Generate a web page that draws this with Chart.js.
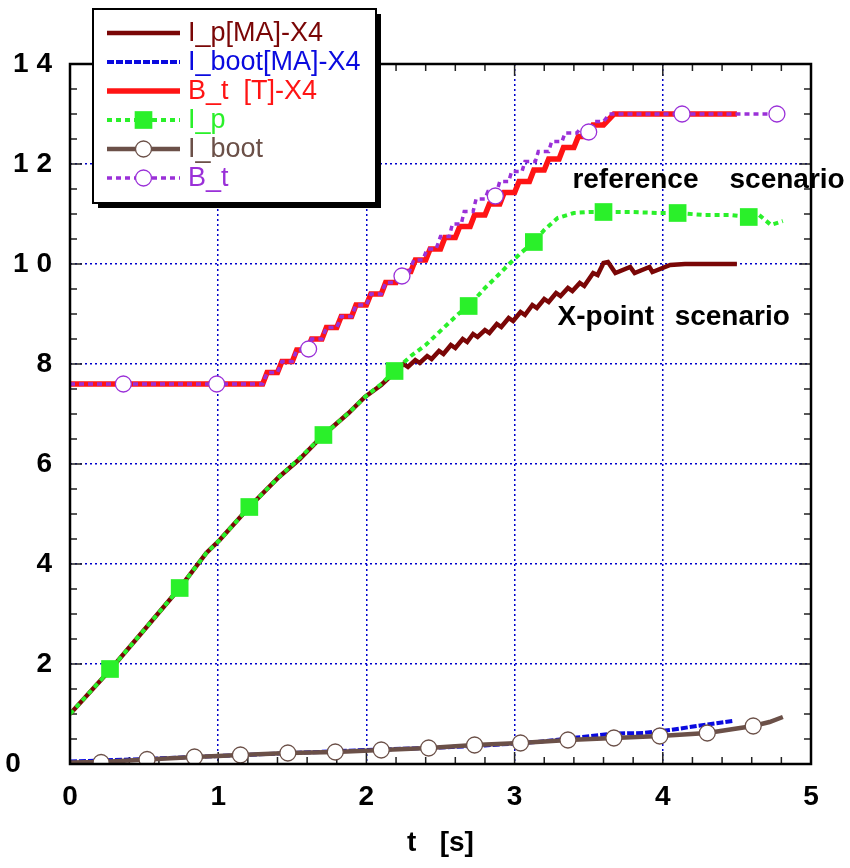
<!DOCTYPE html>
<html>
<head>
<meta charset="utf-8">
<script src="https://cdn.jsdelivr.net/npm/chart.js@4.4.0/dist/chart.umd.min.js"></script>
<style>
  html, body { margin: 0; padding: 0; background: #fff; }
  #wrap { width: 850px; height: 868px; }
</style>
</head>
<body>
<div id="wrap"><canvas id="chart" width="850" height="868"></canvas></div>
<script>
// ---- data (t in s) ----
// I_p[MA]-X4 (X-point scenario)
const ipX4Time = [0, 0.27, 0.5, 0.74, 0.92, 1.01, 1.21, 1.41, 1.55, 1.71,
  1.88, 1.99, 2.10, 2.20, 2.25, 2.28, 2.33, 2.36, 2.41, 2.44,
  2.49, 2.52, 2.57, 2.60, 2.65, 2.68, 2.72, 2.75, 2.80, 2.83,
  2.88, 2.91, 2.96, 2.99, 3.04, 3.07, 3.12, 3.15, 3.20, 3.23,
  3.28, 3.31, 3.36, 3.39, 3.44, 3.47, 3.53, 3.56, 3.60, 3.63,
  3.68, 3.78, 3.81, 3.91, 3.93, 4.05, 4.15, 4.50];
const ipX4Val = [1.00, 1.88, 2.68, 3.52, 4.22, 4.48, 5.14, 5.74, 6.10, 6.58,
  7.02, 7.34, 7.58, 7.86, 8.00, 7.94, 8.08, 8.02, 8.16, 8.10,
  8.26, 8.20, 8.38, 8.32, 8.50, 8.44, 8.60, 8.54, 8.68, 8.62,
  8.80, 8.74, 8.92, 8.86, 9.04, 8.98, 9.18, 9.12, 9.30, 9.24,
  9.42, 9.36, 9.52, 9.46, 9.62, 9.56, 9.82, 9.78, 10.02, 10.04,
  9.82, 9.94, 9.82, 9.94, 9.84, 9.98, 10.00, 10.00];

// I_boot[MA]-X4
const ibX4Time = [0, 0.5, 1.0, 1.5, 2.0, 2.5, 2.8, 3.15, 3.42, 3.67, 3.87, 4.05, 4.23, 4.47];
const ibX4Val = [0.05, 0.10, 0.16, 0.22, 0.28, 0.33, 0.37, 0.44, 0.53, 0.61, 0.62, 0.68, 0.76, 0.86];

// B_t [T]-X4
const btX4Time = [0, 1.30, 1.33, 1.40, 1.43, 1.50, 1.53, 1.60, 1.63, 1.70, 1.73, 1.80,
  1.83, 1.90, 1.93, 2.00, 2.03, 2.10, 2.13, 2.20, 2.23, 2.30, 2.33, 2.40,
  2.43, 2.50, 2.53, 2.60, 2.63, 2.70, 2.73, 2.80, 2.83, 2.90, 2.93, 3.00,
  3.03, 3.10, 3.13, 3.20, 3.23, 3.30, 3.33, 3.40, 3.43, 3.50, 3.53, 3.60,
  3.67, 4.50];
const btX4Val = [7.60, 7.60, 7.83, 7.83, 8.05, 8.05, 8.28, 8.28, 8.50, 8.50, 8.73, 8.73,
  8.95, 8.95, 9.18, 9.18, 9.40, 9.40, 9.63, 9.63, 9.85, 9.85, 10.08, 10.08,
  10.30, 10.30, 10.53, 10.53, 10.75, 10.75, 10.98, 10.98, 11.20, 11.20, 11.43, 11.43,
  11.65, 11.65, 11.88, 11.88, 12.10, 12.10, 12.33, 12.33, 12.55, 12.55, 12.78, 12.78,
  13.00, 13.00];

// I_p (reference scenario)
const ipTime = [0, 0.27, 0.5, 0.74, 0.92, 1.01, 1.21, 1.41, 1.55, 1.71,
  1.88, 1.99, 2.10, 2.19, 2.30, 2.40, 2.52, 2.62, 2.69, 2.80,
  2.89, 2.97, 3.05, 3.13, 3.20, 3.29, 3.40, 3.50, 3.60, 3.78,
  3.98, 4.10, 4.28, 4.45, 4.58, 4.65, 4.73, 4.81];
const ipVal = [1.00, 1.88, 2.68, 3.52, 4.22, 4.48, 5.14, 5.74, 6.12, 6.58,
  7.02, 7.34, 7.60, 7.86, 8.16, 8.38, 8.72, 9.00, 9.16, 9.52,
  9.78, 10.02, 10.24, 10.44, 10.68, 10.92, 11.02, 11.04, 11.04, 11.04,
  11.02, 11.02, 10.98, 10.98, 10.94, 10.98, 10.78, 10.86];
const ipMarkTime = [0.27, 0.74, 1.21, 1.71, 2.19, 2.69, 3.13, 3.60, 4.10, 4.58];
const ipMarkVal = [1.90, 3.52, 5.14, 6.58, 7.86, 9.16, 10.44, 11.04, 11.02, 10.94];

// I_boot (reference scenario)
const ibTime = [0, 0.21, 0.52, 0.84, 1.15, 1.47, 1.79, 2.10, 2.42, 2.73,
  3.04, 3.36, 3.67, 3.98, 4.30, 4.61, 4.72, 4.81];
const ibVal = [0.03, 0.04, 0.09, 0.14, 0.18, 0.22, 0.24, 0.28, 0.32, 0.38,
  0.42, 0.48, 0.52, 0.56, 0.62, 0.76, 0.84, 0.94];
const ibMarkTime = [0.21, 0.52, 0.84, 1.15, 1.47, 1.79, 2.10, 2.42, 2.73, 3.04, 3.36, 3.67, 3.98, 4.30, 4.61];
const ibMarkVal = [0.03, 0.09, 0.14, 0.18, 0.22, 0.24, 0.28, 0.32, 0.38, 0.42, 0.48, 0.52, 0.56, 0.62, 0.76];

// B_t (reference scenario)
const btTime = [0, 1.30, 1.33, 1.40, 1.43, 1.50, 1.53, 1.60, 1.63, 1.70, 1.73, 1.80,
  1.83, 1.90, 1.93, 2.00, 2.03, 2.10, 2.13, 2.20, 2.23, 2.29, 2.32, 2.38,
  2.41, 2.47, 2.50, 2.56, 2.58, 2.64, 2.66, 2.72, 2.74, 2.80, 2.82, 2.88,
  2.90, 2.96, 2.98, 3.05, 3.07, 3.14, 3.16, 3.23, 3.25, 3.32, 3.34, 3.42,
  3.44, 3.52, 3.54, 3.60, 3.64, 4.80];
const btVal = [7.60, 7.60, 7.83, 7.83, 8.05, 8.05, 8.28, 8.28, 8.50, 8.50, 8.73, 8.73,
  8.95, 8.95, 9.18, 9.18, 9.40, 9.40, 9.63, 9.63, 9.85, 9.85, 10.08, 10.08,
  10.30, 10.30, 10.55, 10.55, 10.80, 10.80, 11.05, 11.05, 11.30, 11.30, 11.45, 11.45,
  11.65, 11.65, 11.85, 11.85, 12.05, 12.05, 12.25, 12.25, 12.45, 12.45, 12.62, 12.62,
  12.70, 12.70, 12.85, 12.85, 13.00, 13.00];
const btMarkTime = [0.36, 0.99, 1.61, 2.24, 2.87, 3.50, 4.13, 4.77];
const btMarkVal = [7.60, 7.60, 8.30, 9.76, 11.36, 12.64, 13.00, 13.00];

// axis tick labels
const xTickLabels = ['0', '1', '2', '3', '4', '5'];
const yTickLabels = ['0', '2', '4', '6', '8', '1 0', '1 2', '1 4'];

// ---- styles ----
const DARKRED = '#7a0606';
const BLUE = '#0a0adf';
const RED = '#ff1414';
const GREEN = '#2af02a';
const BROWN = '#6b5048';
const PURPLE = '#9a30d8';
const FONT = '"Liberation Sans", Arial, Helvetica, sans-serif';

const pts = (ts, vs) => ts.map((t, i) => ({ x: t, y: vs[i] }));

// plot frame, inward minor ticks
const framePlugin = {
    id: 'frame',
    beforeDatasetsDraw(chart) {
        const { ctx, chartArea: a, scales: { x, y } } = chart;
        ctx.save();
        ctx.strokeStyle = '#222';
        ctx.lineWidth = 1.5;
        ctx.beginPath();
        for (let i = 1; i < 28; i++) {
            const py = y.getPixelForValue(i * 0.5);
            const len = i % 4 === 0 ? 12 : 7;
            ctx.moveTo(a.left, py); ctx.lineTo(a.left + len, py);
            ctx.moveTo(a.right, py); ctx.lineTo(a.right - len, py);
        }
        for (let i = 1; i < 25; i++) {
            const px = x.getPixelForValue(i * 0.2);
            const len = i % 5 === 0 ? 12 : 7;
            ctx.moveTo(px, a.bottom); ctx.lineTo(px, a.bottom - len);
            ctx.moveTo(px, a.top); ctx.lineTo(px, a.top + len);
        }
        ctx.stroke();
        ctx.restore();
    },
    afterDatasetsDraw(chart) {
        const { ctx, chartArea: a } = chart;
        ctx.save();
        ctx.strokeStyle = '#000';
        ctx.lineWidth = 2.5;
        ctx.strokeRect(a.left, a.top, a.right - a.left, a.bottom - a.top);
        ctx.restore();
    }
};

// scenario labels inside the plot (anchored in data units)
const notes = [
    { text: 'reference', x: 3.39, y: 11.52 },
    { text: 'scenario', x: 4.45, y: 11.52 },
    { text: 'X-point', x: 3.29, y: 8.78 },
    { text: 'scenario', x: 4.08, y: 8.78 }
];
const notesPlugin = {
    id: 'notes',
    afterDatasetsDraw(chart) {
        const { ctx, scales: { x, y } } = chart;
        ctx.save();
        ctx.font = 'bold 28px ' + FONT;
        ctx.fillStyle = '#000';
        ctx.textAlign = 'left';
        ctx.textBaseline = 'alphabetic';
        notes.forEach(n => ctx.fillText(n.text, x.getPixelForValue(n.x), y.getPixelForValue(n.y)));
        ctx.restore();
    }
};

// boxed legend in the upper left corner
const legendRows = [
    { text: 'I_p[MA]-X4', line: 'I_p[MA]-X4' },
    { text: 'I_boot[MA]-X4', line: 'I_boot[MA]-X4' },
    { text: 'B_t  [T]-X4', line: 'B_t  [T]-X4' },
    { text: 'I_p', line: 'I_p', mark: 'I_p marks' },
    { text: 'I_boot', line: 'I_boot', mark: 'I_boot marks' },
    { text: 'B_t', line: 'B_t', mark: 'B_t marks' }
];
const boxLegendPlugin = {
    id: 'boxLegend',
    afterDraw(chart) {
        const { ctx } = chart;
        const ds = label => chart.data.datasets.find(d => d.label === label);
        const bx = 93, by = 9, bw = 283, bh = 194;
        ctx.save();
        ctx.fillStyle = '#000';
        ctx.fillRect(bx + 5, by + 5, bw, bh);
        ctx.fillStyle = '#fff';
        ctx.fillRect(bx, by, bw, bh);
        ctx.strokeStyle = '#000';
        ctx.lineWidth = 2;
        ctx.strokeRect(bx, by, bw, bh);

        legendRows.forEach((row, i) => {
            const cy = 33 + i * 29;
            const l = ds(row.line);
            ctx.save();
            ctx.strokeStyle = l.borderColor;
            ctx.lineWidth = l.borderWidth;
            ctx.setLineDash(l.borderDash || []);
            ctx.beginPath();
            ctx.moveTo(107, cy);
            ctx.lineTo(180, cy);
            ctx.stroke();
            ctx.restore();
            if (row.mark) {
                const m = ds(row.mark);
                ctx.save();
                ctx.fillStyle = m.pointBackgroundColor;
                ctx.strokeStyle = m.pointBorderColor;
                ctx.lineWidth = m.pointBorderWidth;
                ctx.beginPath();
                if (m.pointStyle === 'rect') {
                    const s = m.pointRadius * Math.SQRT1_2;
                    ctx.rect(143.5 - s, cy - s, 2 * s, 2 * s);
                } else {
                    ctx.arc(143.5, cy, m.pointRadius, 0, Math.PI * 2);
                }
                ctx.fill();
                if (m.pointBorderWidth) ctx.stroke();
                ctx.restore();
            }
            ctx.fillStyle = l.borderColor;
            ctx.font = '27px ' + FONT;
            ctx.textAlign = 'left';
            ctx.textBaseline = 'middle';
            ctx.fillText(row.text, 188, cy + 1);
        });
        ctx.restore();
    }
};

const gridStyle = {
    color: '#0000cc',
    lineWidth: 1.5,
    drawTicks: false
};

new Chart(document.getElementById('chart'), {
    type: 'line',
    data: {
        datasets: [
            {
                label: 'I_p marks', data: pts(ipMarkTime, ipMarkVal), showLine: false,
                pointStyle: 'rect', pointRadius: 12.5, pointBorderWidth: 0,
                pointBackgroundColor: GREEN, pointBorderColor: GREEN, order: 0
            },
            {
                label: 'I_boot marks', data: pts(ibMarkTime, ibMarkVal), showLine: false,
                pointStyle: 'circle', pointRadius: 8, pointBorderWidth: 1.3,
                pointBackgroundColor: '#fff', pointBorderColor: BROWN, order: 1
            },
            {
                label: 'B_t marks', data: pts(btMarkTime, btMarkVal), showLine: false,
                pointStyle: 'circle', pointRadius: 8, pointBorderWidth: 1.3,
                pointBackgroundColor: '#fff', pointBorderColor: PURPLE, order: 2
            },
            {
                label: 'I_p', data: pts(ipTime, ipVal), borderColor: GREEN,
                borderWidth: 4, borderDash: [5, 4], pointRadius: 0, order: 3
            },
            {
                label: 'B_t', data: pts(btTime, btVal), borderColor: PURPLE,
                borderWidth: 3.5, borderDash: [5, 4], pointRadius: 0, order: 4
            },
            {
                label: 'I_boot', data: pts(ibTime, ibVal), borderColor: BROWN,
                borderWidth: 4.5, pointRadius: 0, order: 5
            },
            {
                label: 'I_boot[MA]-X4', data: pts(ibX4Time, ibX4Val), borderColor: BLUE,
                borderWidth: 4, borderDash: [7, 2], pointRadius: 0, order: 6
            },
            {
                label: 'B_t  [T]-X4', data: pts(btX4Time, btX4Val), borderColor: RED,
                borderWidth: 5.5, pointRadius: 0, order: 7
            },
            {
                label: 'I_p[MA]-X4', data: pts(ipX4Time, ipX4Val), borderColor: DARKRED,
                borderWidth: 4.5, pointRadius: 0, order: 8
            }
        ]
    },
    options: {
        responsive: false,
        animation: false,
        devicePixelRatio: 1,
        layout: { padding: { left: 0, top: 64, right: 39, bottom: 0 } },
        plugins: {
            legend: { display: false },
            tooltip: { enabled: false }
        },
        scales: {
            x: {
                type: 'linear',
                min: 0, max: 5,
                afterFit: s => { s.height = 104; },
                grid: gridStyle,
                border: { display: false, dash: [2, 3] },
                ticks: {
                    stepSize: 1,
                    padding: 16,
                    color: '#000',
                    font: { family: FONT, size: 28, weight: 'bold' },
                    callback: v => xTickLabels[v]
                },
                title: {
                    display: true,
                    text: 't   [s]',
                    color: '#000',
                    font: { family: FONT, size: 28, weight: 'bold' },
                    padding: { top: 0, bottom: 8 }
                }
            },
            y: {
                min: 0, max: 14,
                afterFit: s => { s.width = 70; },
                grid: gridStyle,
                border: { display: false, dash: [2, 3] },
                ticks: {
                    stepSize: 2,
                    padding: 18,
                    color: '#000',
                    font: { family: FONT, size: 28, weight: 'bold' },
                    // the zero label sits further left in the original
                    callback: v => v === 0 ? yTickLabels[0] + '    ' : yTickLabels[v / 2]
                }
            }
        }
    },
    plugins: [framePlugin, notesPlugin, boxLegendPlugin]
});
</script>
</body>
</html>
